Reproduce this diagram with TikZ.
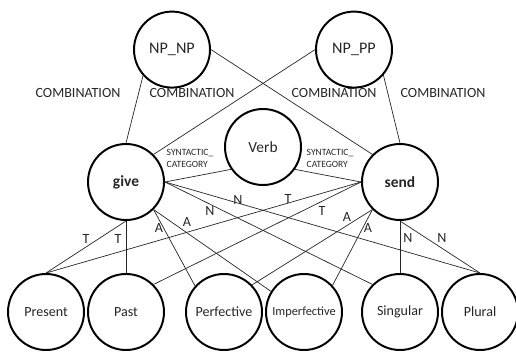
\documentclass[tikz,border=0pt]{standalone}
\usepackage{fontspec}
\setmainfont{Carlito}

\tikzset{
  concept/.style={circle, draw, line width=1.4pt, minimum size=1.9cm, inner sep=0pt,
    text=black!85, font=\fontsize{10}{12}\selectfont},
  relation/.style={line width=0.5pt, black!85},
  rellabel/.style={text=black!85, inner sep=0pt, font=\fontsize{10}{12}\selectfont},
  catlabel/.style={text=black!85, inner sep=0pt, align=left, font=\fontsize{6.8}{8.5}\selectfont},
}

\begin{document}
\begin{tikzpicture}
    \useasboundingbox (0,0) rectangle (12.9,8.8);

    % Frame nodes
    \node[concept, font=\fontsize{11.5}{13}\selectfont] (npnp) at (4.30,7.56) {NP\_NP};
    \node[concept, font=\fontsize{11.5}{13}\selectfont] (nppp) at (8.85,7.56) {NP\_PP};

    % Verbs and category
    \node[concept, font=\fontsize{11}{13}\selectfont] (verb) at (6.575,5.125) {Verb};
    \node[concept, font=\bfseries\fontsize{11}{13}\selectfont] (give) at (3.15,4.25) {give};
    \node[concept, font=\bfseries\fontsize{11}{13}\selectfont] (send) at (10.0,4.25) {send};

    % Feature values
    \node[concept] (present) at (1.15,1.0) {Present};
    \node[concept] (past) at (3.15,1.0) {Past};
    \node[concept] (perfective) at (5.6,1.0) {Perfective};
    \node[concept, font=\fontsize{8.8}{10}\selectfont] (imperfective) at (7.6,1.0) {Imperfective};
    \node[concept] (singular) at (10.0,1.0) {Singular};
    \node[concept] (plural) at (12.0,1.0) {Plural};

    % Combination links
    \draw[relation] (npnp.222) -- (give.north);
    \draw[relation] (npnp.east) -- (send.north west);
    \draw[relation] (nppp.west) -- (give.north east);
    \draw[relation] (nppp.-41) -- (send.north);

    % Syntactic category links
    \draw[relation] (give.east) -- (verb.215);
    \draw[relation] (send.west) -- (verb.-35);

    % Links from give
    \draw[relation] (give.south) -- (present.north);
    \draw[relation] (give.south) -- (past.north);
    \draw[relation] (give.south east) -- (perfective.138);
    \draw[relation] (give.south east) -- (imperfective.148);
    \draw[relation] (give.east) -- (singular.north west);
    \draw[relation] (give.east) -- (plural.north);

    % Links from send
    \draw[relation] (send.west) -- (present.north);
    \draw[relation] (send.west) -- (past.north east);
    \draw[relation] (send.south west) -- (perfective.44);
    \draw[relation] (send.south west) -- (imperfective.43);
    \draw[relation] (send.south) -- (singular.north);
    \draw[relation] (send.south) -- (plural.north);

    % Labels
    \node[rellabel] (comb1) at (1.95,6.475) {COMBINATION};
    \node[rellabel] (comb2) at (4.80,6.475) {COMBINATION};
    \node[rellabel] (comb3) at (8.35,6.475) {COMBINATION};
    \node[rellabel] (comb4) at (11.075,6.475) {COMBINATION};
    \node[catlabel] (cat1) at (4.75,4.83) {SYNTACTIC\_\\CATEGORY};
    \node[catlabel] (cat2) at (8.25,4.83) {SYNTACTIC\_\\CATEGORY};
    \node[rellabel] (t1) at (2.15,2.825) {T};
    \node[rellabel] (t2) at (2.95,2.825) {T};
    \node[rellabel] (a1) at (3.975,3.1) {A};
    \node[rellabel] (a2) at (4.675,3.25) {A};
    \node[rellabel] (n1) at (5.25,3.525) {N};
    \node[rellabel] (n2) at (5.95,3.8) {N};
    \node[rellabel] (t3) at (7.2,3.825) {T};
    \node[rellabel] (t4) at (8.05,3.525) {T};
    \node[rellabel] (a3) at (8.675,3.375) {A};
    \node[rellabel] (a4) at (9.2,3.1) {A};
    \node[rellabel] (n3) at (10.2,2.85) {N};
    \node[rellabel] (n4) at (11.05,2.85) {N};
  \end{tikzpicture}
\end{document}
